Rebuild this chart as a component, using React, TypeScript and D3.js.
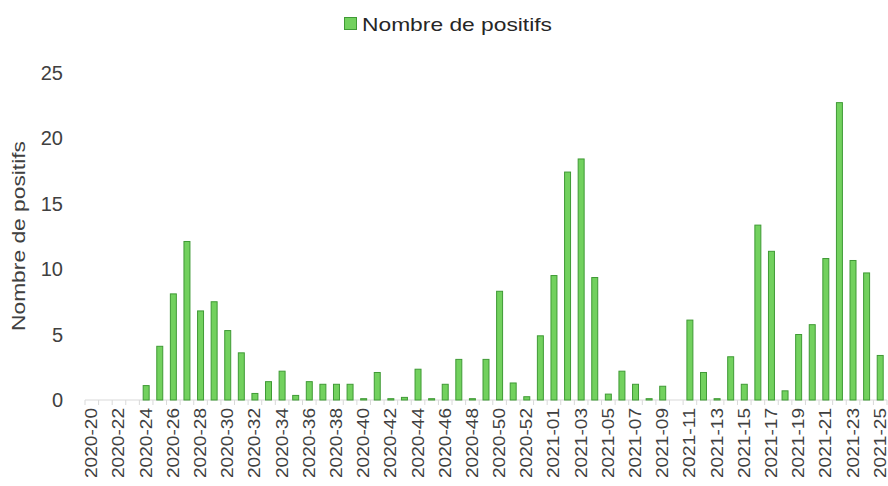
import React from "react";
import * as d3 from "d3";

const weeks2020 = [
  "2020-20", "2020-21", "2020-22", "2020-23", "2020-24", "2020-25", "2020-26", "2020-27",
  "2020-28", "2020-29", "2020-30", "2020-31", "2020-32", "2020-33", "2020-34", "2020-35",
  "2020-36", "2020-37", "2020-38", "2020-39", "2020-40", "2020-41", "2020-42", "2020-43",
  "2020-44", "2020-45", "2020-46", "2020-47", "2020-48", "2020-49", "2020-50", "2020-51",
  "2020-52", "2020-53",
];
const weeks2021 = [
  "2021-01", "2021-02", "2021-03", "2021-04", "2021-05", "2021-06", "2021-07", "2021-08",
  "2021-09", "2021-10", "2021-11", "2021-12", "2021-13", "2021-14", "2021-15", "2021-16",
  "2021-17", "2021-18", "2021-19", "2021-20", "2021-21", "2021-22", "2021-23", "2021-24",
  "2021-25",
];
const positifs2020 = [
  0, 0, 0, 0, 1.1, 4.1, 8.1, 12.1, 6.8, 7.5, 5.3, 3.6, 0.5, 1.4, 2.2, 0.35,
  1.4, 1.2, 1.2, 1.2, 0.1, 2.1, 0.1, 0.2, 2.35, 0.1, 1.2, 3.1, 0.1, 3.1, 8.3, 1.3,
  0.25, 4.9,
];
const positifs2021 = [
  9.5, 17.4, 18.4, 9.35, 0.45, 2.2, 1.2, 0.1, 1.05, 0, 6.1, 2.1, 0.1, 3.3, 1.2, 13.35,
  11.35, 0.7, 5.0, 5.75, 10.8, 22.7, 10.65, 9.7, 3.4,
];
const yTicks = [0, 5, 10, 15, 20, 25];
const seriesName = "Nombre de positifs";

const weeks = [...weeks2020, ...weeks2021];
const values = [...positifs2020, ...positifs2021];

const W = 888;
const H = 486;
const font = "'Liberation Sans', Arial, sans-serif";

const App = () => {
  const x = d3
    .scaleBand<string>()
    .domain(weeks)
    .range([85, 887])
    .paddingInner(0.56)
    .paddingOuter(0.28);
  const y = d3.scaleLinear().domain([0, 25]).range([400, 72.5]);
  const step = x.step();
  const data = weeks.map((w, i) => ({ week: w, value: values[i] }));

  return (
    <svg
      width={W}
      height={H}
      style={{ position: "absolute", left: 0, top: 0, background: "#fff" }}
    >
      {/* legend */}
      <rect x={344.5} y={17.5} width={12} height={12} fill="#72d15e" stroke="#3f9a35" />
      <text
        x={362}
        y={31}
        fontFamily={font}
        fontSize={19}
        fill="#262626"
        textLength={190}
        lengthAdjust="spacingAndGlyphs"
      >
        {seriesName}
      </text>

      {/* y axis title */}
      <text
        transform="translate(25,236) rotate(-90)"
        textAnchor="middle"
        fontFamily={font}
        fontSize={19}
        fill="#404040"
        textLength={190}
        lengthAdjust="spacingAndGlyphs"
      >
        {seriesName}
      </text>

      {/* y tick labels */}
      {yTicks.map(t => (
        <text
          key={t}
          x={63}
          y={y(t)}
          dy="0.36em"
          textAnchor="end"
          fontFamily={font}
          fontSize={20}
          fill="#404040"
        >
          {t}
        </text>
      ))}

      {/* x axis line and ticks */}
      <line x1={85} x2={887} y1={y(0)} y2={y(0)} stroke="#d9d9d9" />
      {d3.range(weeks.length + 1).map(i => (
        <line
          key={i}
          x1={85 + i * step}
          x2={85 + i * step}
          y1={y(0)}
          y2={y(0) + 5}
          stroke="#d9d9d9"
        />
      ))}

      {/* bars */}
      {data
        .filter(d => d.value > 0)
        .map(d => (
          <rect
            key={d.week}
            x={x(d.week)}
            y={y(d.value)}
            width={x.bandwidth()}
            height={y(0) - y(d.value)}
            fill="#72d15e"
            stroke="#3f9a35"
            strokeWidth={1}
          />
        ))}

      {/* category labels */}
      {weeks
        .filter((_, i) => i % 2 === 0)
        .map(w => (
          <text
            key={w}
            transform={`translate(${(x(w) as number) + x.bandwidth() / 2},408) rotate(-90)`}
            textAnchor="end"
            dominantBaseline="central"
            fontFamily={font}
            fontSize={16}
            fill="#404040"
            textLength={70}
            lengthAdjust="spacingAndGlyphs"
          >
            {w}
          </text>
        ))}
    </svg>
  );
};

export default App;
